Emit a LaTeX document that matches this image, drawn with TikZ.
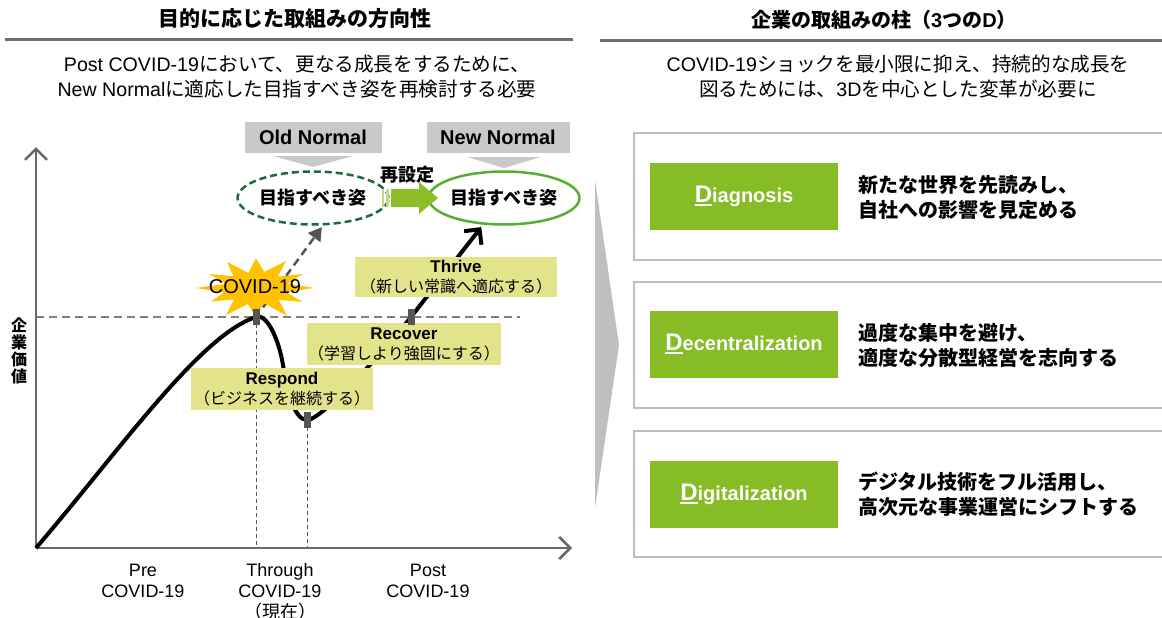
\documentclass[tikz,border=0pt]{standalone}
\usepackage{fontspec}
\setmainfont{Noto Sans CJK JP}
\newfontfamily\lat{Liberation Sans}
\newfontfamily\jp{Noto Sans CJK JP}
\usetikzlibrary{arrows.meta,shapes.geometric}
\definecolor{axisgray}{RGB}{105,105,105}
\definecolor{dashgray}{RGB}{128,128,128}
\definecolor{markgray}{RGB}{85,85,85}
\definecolor{boxgray}{RGB}{201,201,201}
\definecolor{labelyel}{RGB}{227,227,140}
\definecolor{covidyel}{RGB}{255,194,0}
\definecolor{oldgreen}{RGB}{30,105,60}
\definecolor{newgreen}{RGB}{80,176,50}
\definecolor{arrowgreen}{RGB}{141,190,40}
\definecolor{arrowlight}{RGB}{190,220,130}
\definecolor{dgreen}{RGB}{134,188,37}
\definecolor{framegray}{RGB}{191,191,191}
\definecolor{wedgegray}{RGB}{190,191,191}
\definecolor{titleline}{RGB}{110,110,110}
\newcommand\bigD{\setbox0\hbox{\fontsize{24}{24}\selectfont D}\rlap{\rule[-3.5pt]{\wd0}{2pt}}\box0}
\begin{document}
\begin{tikzpicture}[x=1pt,y=-1pt,
  ttl/.style={font=\fontsize{21}{24}\selectfont\bfseries, inner sep=0pt},
  subt/.style={font=\fontsize{19.6}{25}\selectfont, align=center, inner sep=0pt},
  normbox/.style={fill=boxgray, font=\lat\fontsize{20}{24}\selectfont\bfseries, minimum height=31pt, inner sep=0pt},
  goal/.style={ellipse, minimum width=129pt, minimum height=53pt, font=\fontsize{18}{22}\selectfont\bfseries, line width=2.5pt, inner sep=0pt},
  lbl/.style={fill=labelyel, align=center, inner sep=0pt, font=\fontsize{16}{20}\selectfont},
  dbox/.style={fill=dgreen, minimum width=188pt, minimum height=67pt, inner sep=0pt, text=white, font=\lat\fontsize{20}{24}\selectfont\bfseries},
  desc/.style={anchor=west, align=left, inner sep=0pt, font=\fontsize{20}{25}\selectfont\bfseries},
  frm/.style={draw=framegray, line width=2pt},
  ax/.style={draw=axisgray, line width=2.5pt, -{Straight Barb[length=11pt,width=22pt]}},
  xlbl/.style={align=center, inner sep=0pt, font=\lat\fontsize{18}{21}\selectfont},
  mk/.style={fill=markgray, minimum width=7pt, minimum height=16pt, inner sep=0pt}
]
\useasboundingbox (0,0) rectangle (1162,618);

% ---------- Left header ----------
\node[ttl] (ltitle) at (295,19) {目的に応じた取組みの方向性};
\draw[titleline, line width=3pt] (5,40) -- (573,40);
\node[subt] (lsub) at (297,77) {{\lat Post COVID-19}において、更なる成長をするために、\\{\lat New Normal}に適応した目指すべき姿を再検討する必要};

% ---------- Right header ----------
\node[ttl, font=\fontsize{20}{24}\selectfont\bfseries] (rtitle) at (884,20) {企業の取組みの柱（{\lat 3}つの{\lat D}）};
\draw[titleline, line width=3pt] (600,41) -- (1162,41);
\node[subt] (rsub) at (898,77) {{\lat COVID-19}ショックを最小限に抑え、持続的な成長を\\図るためには、{\lat 3D}を中心とした変革が必要に};

% ---------- Chart reference lines ----------
\coordinate (peak) at (256,317);
\coordinate (low) at (307,420);
\coordinate (rec) at (411,317);
\coordinate (origin) at (36,548);
\coordinate (ytip) at (36,147);
\coordinate (xtip) at (572,548);
\coordinate (hend) at (520,317);
\draw[dashgray, line width=2.5pt, dash pattern=on 8pt off 5pt] (36,317) -- (hend);
\draw[markgray, line width=1pt, dash pattern=on 4pt off 3pt] (peak) -- (256,548);
\draw[markgray, line width=1pt, dash pattern=on 4pt off 3pt] (low) -- (307,548);

% axes
\draw[ax] (origin) -- (ytip);
\draw[ax] (origin) -- (xtip);
\node[font=\fontsize{16}{17}\selectfont\bfseries, align=center, inner sep=0pt] (ylab) at (19,351) {企\\業\\価\\値};

% x labels
\node[xlbl] (pre) at (143,581) {Pre\\COVID-19};
\node[xlbl] (thr) at (280,592) {Through\\COVID-19\\{\jp （現在）}};
\node[xlbl] (post) at (428,581) {Post\\COVID-19};

% ---------- Old / New Normal ----------
\node[normbox, minimum width=137pt] (oldn) at (313,137) {Old Normal};
\node[normbox, minimum width=143pt] (newn) at (498,137) {New Normal};
\fill[boxgray] (273,156) -- (353,156) -- (313,167) -- cycle;
\fill[boxgray] (467,157) -- (541,157) -- (504,168) -- cycle;
\node[goal, draw=oldgreen, dash pattern=on 7pt off 4pt] (oldgoal) at (313,198) {目指すべき姿};
\node[goal, draw=newgreen] (newgoal) at (504,198) {目指すべき姿};
\node[font=\fontsize{18}{22}\selectfont\bfseries, inner sep=0pt] (reset) at (407,175) {再設定};
% green block arrow
\fill[arrowlight] (382,189) rectangle (384,207);
\fill[arrowlight] (386,189) rectangle (389,207);
\fill[arrowgreen] (391,189) -- (419,189) -- (419,182) -- (438,198) -- (419,214) -- (419,207) -- (391,207) -- cycle;

% dashed arrow from peak to old goal
\draw[markgray, line width=2.5pt, dash pattern=on 8pt off 5pt, shorten <=12pt, shorten >=2pt, -{Triangle[length=13pt,width=15pt]}] (peak) -- (oldgoal.-70);

% COVID star
\begin{scope}[shift={(256,288)},yscale=0.52]
\fill[covidyel] (0:58) -- (15:31) -- (30:54) -- (45:32) -- (60:62) -- (75:30) -- (90:56) -- (105:32) -- (120:60) -- (135:31) -- (150:52) -- (165:33) -- (180:60) -- (195:31) -- (210:54) -- (225:32) -- (240:58) -- (255:30) -- (270:57) -- (285:32) -- (300:60) -- (315:31) -- (330:54) -- (345:33) -- cycle;
\end{scope}
\node[font=\lat\fontsize{20}{24}\selectfont, inner sep=0pt] (covid) at (255,287) {COVID-19};

% value curve
\draw[black, line width=4pt, line join=round]
  (origin) .. controls (120,450) and (200,335) .. (peak)
  .. controls (267,313) and (279,340) .. (283,365)
  .. controls (287,390) and (294,420) .. (low)
  .. controls (322,420) and (385,350) .. (rec);
\draw[black, line width=4pt, shorten >=3pt, -{Straight Barb[length=11pt,width=22pt]}] (rec) -- (newgoal);

% phase labels
\node[lbl, minimum width=182pt, minimum height=42pt] (respond) at (282,389) {{\lat\bfseries\fontsize{17}{20}\selectfont Respond}\\（ビジネスを継続する）};
\node[lbl, minimum width=194pt, minimum height=42pt] (recover) at (404,344) {{\lat\bfseries\fontsize{17}{20}\selectfont Recover}\\（学習しより強固にする）};
\node[lbl, minimum width=202pt, minimum height=40pt] (thrive) at (456,277) {{\lat\bfseries\fontsize{17}{20}\selectfont Thrive}\\（新しい常識へ適応する）};

% markers
\node[mk] (peakm) at (peak) {};
\node[mk] (lowm) at (low) {};
\node[mk] (recm) at (rec) {};

% ---------- Right side ----------
\fill[wedgegray] (595,180) -- (619,345) -- (595,508) -- cycle;

\draw[frm] (1164,133) -- (634,133) -- (634,260) -- (1164,260);
\draw[frm] (1164,282) -- (634,282) -- (634,408) -- (1164,408);
\draw[frm] (1164,431) -- (634,431) -- (634,557) -- (1164,557);

\node[dbox] (diag) at (744,196) {\bigD iagnosis};
\node[dbox] (dec) at (744,344) {\bigD ecentralization};
\node[dbox] (dig) at (744,494) {\bigD igitalization};

\node[desc] (d1) at (858,197) {新たな世界を先読みし、\\自社への影響を見定める};
\node[desc] (d2) at (858,345) {過度な集中を避け、\\適度な分散型経営を志向する};
\node[desc] (d3) at (858,494) {デジタル技術をフル活用し、\\高次元な事業運営にシフトする};
\end{tikzpicture}
\end{document}
